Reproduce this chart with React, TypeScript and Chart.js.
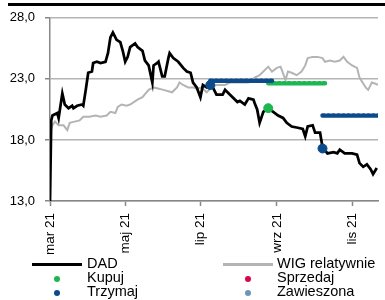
import React, { useEffect, useRef } from "react";
import { Chart, registerables } from "chart.js";

Chart.register(...registerables);

// x values are days counted from 1 March 2021
const tickDays = [0, 61, 122, 184, 245];
const tickLabels = ["mar 21", "maj 21", "lip 21", "wrz 21", "lis 21"];

const dadDays = [0, 1, 2, 6, 7, 10, 12, 15, 18, 19, 22, 26, 27, 29, 31, 34, 35, 38, 41, 45, 47, 49, 51, 54, 57, 59, 61, 63, 65, 69, 71, 75, 77, 80, 83, 84, 87, 88, 91, 93, 96, 97, 100, 104, 108, 111, 114, 116, 119, 122, 124, 127, 130, 131, 135, 140, 142, 146, 152, 154, 158, 161, 165, 166, 168, 170, 173, 177, 181, 185, 189, 192, 196, 201, 205, 207, 209, 213, 215, 219, 221, 225, 230, 233, 235, 239, 245, 249, 251, 254, 257, 260, 262, 265];
const dadValues = [13.0, 19.6, 20.0, 20.2, 19.8, 21.8, 20.9, 20.6, 20.8, 20.6, 20.8, 20.9, 20.8, 22.1, 23.5, 23.6, 24.3, 24.4, 24.3, 24.4, 25.1, 26.4, 26.8, 26.2, 26.0, 25.3, 24.4, 24.8, 25.6, 25.9, 25.6, 25.3, 24.5, 24.1, 22.7, 24.1, 24.3, 24.4, 23.2, 23.2, 24.7, 25.1, 24.7, 24.4, 23.9, 23.6, 23.5, 22.7, 22.3, 21.5, 22.5, 22.3, 22.5, 22.5, 21.7, 21.7, 22.1, 21.7, 21.1, 21.2, 20.9, 21.4, 21.3, 21.0, 20.5, 19.4, 20.3, 20.6, 20.3, 20.0, 19.8, 19.4, 19.1, 19.0, 18.9, 18.3, 19.1, 19.2, 18.6, 18.6, 17.4, 16.9, 17.0, 16.9, 17.2, 16.9, 16.9, 16.8, 16.1, 15.8, 16.0, 15.6, 15.2, 15.7];

const wigDays = [0, 2, 4, 7, 11, 14, 16, 20, 24, 27, 32, 37, 41, 46, 49, 53, 55, 58, 62, 65, 71, 75, 80, 84, 92, 99, 103, 105, 108, 112, 116, 119, 123, 127, 131, 135, 142, 146, 154, 161, 166, 170, 172, 177, 180, 184, 187, 191, 193, 196, 200, 204, 207, 209, 213, 217, 221, 223, 227, 231, 235, 238, 241, 245, 249, 251, 256, 258, 261, 264, 266];
const wigValues = [18.6, 19.2, 19.5, 19.2, 19.2, 18.8, 19.4, 19.5, 19.6, 19.9, 19.9, 20.0, 19.9, 20.0, 20.3, 20.2, 20.7, 20.9, 20.8, 20.9, 21.3, 21.5, 22.1, 22.3, 22.1, 21.9, 22.3, 22.7, 22.5, 22.3, 22.3, 22.2, 22.3, 21.9, 22.3, 22.5, 22.5, 22.7, 22.7, 22.7, 23.1, 23.3, 23.5, 24.0, 23.6, 23.9, 24.0, 22.9, 23.6, 23.5, 23.3, 23.6, 24.1, 24.7, 24.8, 24.8, 24.7, 24.4, 24.5, 24.4, 24.5, 24.8, 24.4, 24.1, 23.9, 23.1, 22.3, 22.1, 22.7, 22.6, 22.5];

// recommendations
const recTypes = ["Trzymaj", "Kupuj", "Trzymaj"];
const recStartDays = [130, 177, 221];
const recEndDays = [180, 223, 266];
const recPrices = [22.5, 20.6, 17.3];
const recTargets = [22.85, 22.65, 20.0];

const recColors: Record<string, string> = {
  Kupuj: "#1db650",
  Sprzedaj: "#d4064f",
  Trzymaj: "#0c4a8c",
  Zawieszona: "#6e96b8",
};

const legendItems = [
  { label: "DAD", kind: "line", color: "#000000", col: 0, row: 0 },
  { label: "WIG relatywnie", kind: "line", color: "#b4b4b4", col: 1, row: 0 },
  { label: "Kupuj", kind: "dot", color: recColors.Kupuj, col: 0, row: 1 },
  { label: "Sprzedaj", kind: "dot", color: recColors.Sprzedaj, col: 1, row: 1 },
  { label: "Trzymaj", kind: "dot", color: recColors.Trzymaj, col: 0, row: 2 },
  { label: "Zawieszona", kind: "dot", color: recColors.Zawieszona, col: 1, row: 2 },
];

const FONT = "'Liberation Sans', Arial, sans-serif";

export default function App() {
  const ref = useRef<HTMLCanvasElement>(null);

  useEffect(() => {
    if (!ref.current) return;
    const datasets: any[] = [
      {
        label: "WIG relatywnie",
        data: wigDays.map((d, i) => ({ x: d, y: wigValues[i] })),
        borderColor: "#b4b4b4",
        borderWidth: 2,
        pointRadius: 0,
        tension: 0,
        order: 5,
      },
      {
        label: "DAD",
        data: dadDays.map((d, i) => ({ x: d, y: dadValues[i] })),
        borderColor: "#000000",
        borderWidth: 2.75,
        pointRadius: 0,
        tension: 0,
        order: 4,
      },
    ];
    recTypes.forEach((t, i) => {
      datasets.push({
        label: t + " cel",
        data: [
          { x: recStartDays[i], y: recTargets[i] },
          { x: recEndDays[i], y: recTargets[i] },
        ],
        borderColor: recColors[t],
        borderWidth: 4.5,
        borderDash: [2, 3],
        borderCapStyle: "round",
        pointRadius: 0,
        order: 2,
      });
      datasets.push({
        label: t,
        data: [{ x: recStartDays[i], y: recPrices[i] }],
        showLine: false,
        pointRadius: 4.5,
        pointBackgroundColor: recColors[t],
        pointBorderColor: recColors[t],
        order: 1,
      });
    });

    const chart = new Chart(ref.current, {
      type: "line",
      data: { datasets },
      options: {
        animation: false,
        responsive: false,
        layout: { padding: { top: 17, right: 7, left: 0, bottom: 0 } },
        plugins: { legend: { display: false }, tooltip: { enabled: false } },
        scales: {
          x: {
            type: "linear",
            min: 0,
            max: 266,
            afterBuildTicks: (s: any) => {
              s.ticks = tickDays.map((v) => ({ value: v }));
            },
            afterFit: (s: any) => {
              s.height = 99;
            },
            grid: {
              drawOnChartArea: false,
              drawTicks: true,
              tickLength: 5,
              tickColor: "#888888",
              tickWidth: 1.5,
            },
            border: { color: "#888888", width: 1.5 },
            ticks: {
              autoSkip: false,
              maxRotation: 90,
              minRotation: 90,
              padding: 7,
              color: "#000000",
              font: { family: FONT, size: 13.5 },
              callback: (v: any) => {
                const idx = tickDays.indexOf(Number(v));
                return idx >= 0 ? tickLabels[idx] : "";
              },
            },
          },
          y: {
            min: 13,
            max: 28,
            afterFit: (s: any) => {
              s.width = 50;
            },
            grid: {
              color: "#b4b4b4",
              lineWidth: 1.5,
              tickLength: 5,
              tickColor: "#888888",
              tickWidth: 1.5,
            },
            border: { color: "#888888", width: 1.5 },
            ticks: {
              stepSize: 5,
              padding: 10,
              color: "#000000",
              font: { family: FONT, size: 13 },
              callback: (v: any) => Number(v).toFixed(1).replace(".", ","),
            },
          },
        },
      },
    });
    return () => chart.destroy();
  }, []);

  return (
    <div style={{ position: "absolute", left: 0, top: 0, width: 385, height: 300, background: "#fff", overflow: "hidden" }}>
      <div style={{ position: "absolute", left: 8, top: 3, width: 377, height: 3, background: "#000" }} />
      <canvas ref={ref} width={385} height={300} style={{ position: "absolute", left: 0, top: 0 }} />
      {legendItems.map((it) => {
        const cy = 264 + it.row * 14;
        const sx = it.col === 0 ? 32 : 223;
        const tx = it.col === 0 ? 87 : 277;
        return (
          <React.Fragment key={it.label}>
            {it.kind === "line" ? (
              <div style={{ position: "absolute", left: sx, top: cy - 1.5, width: 50, height: 3, background: it.color }} />
            ) : (
              <div style={{ position: "absolute", left: sx + 22, top: cy - 2.5, width: 6, height: 6, borderRadius: 3, background: it.color }} />
            )}
            <div style={{ position: "absolute", left: tx, top: cy - 9, fontFamily: FONT, fontSize: 14.5, lineHeight: "17px", color: "#000", whiteSpace: "nowrap" }}>
              {it.label}
            </div>
          </React.Fragment>
        );
      })}
    </div>
  );
}
